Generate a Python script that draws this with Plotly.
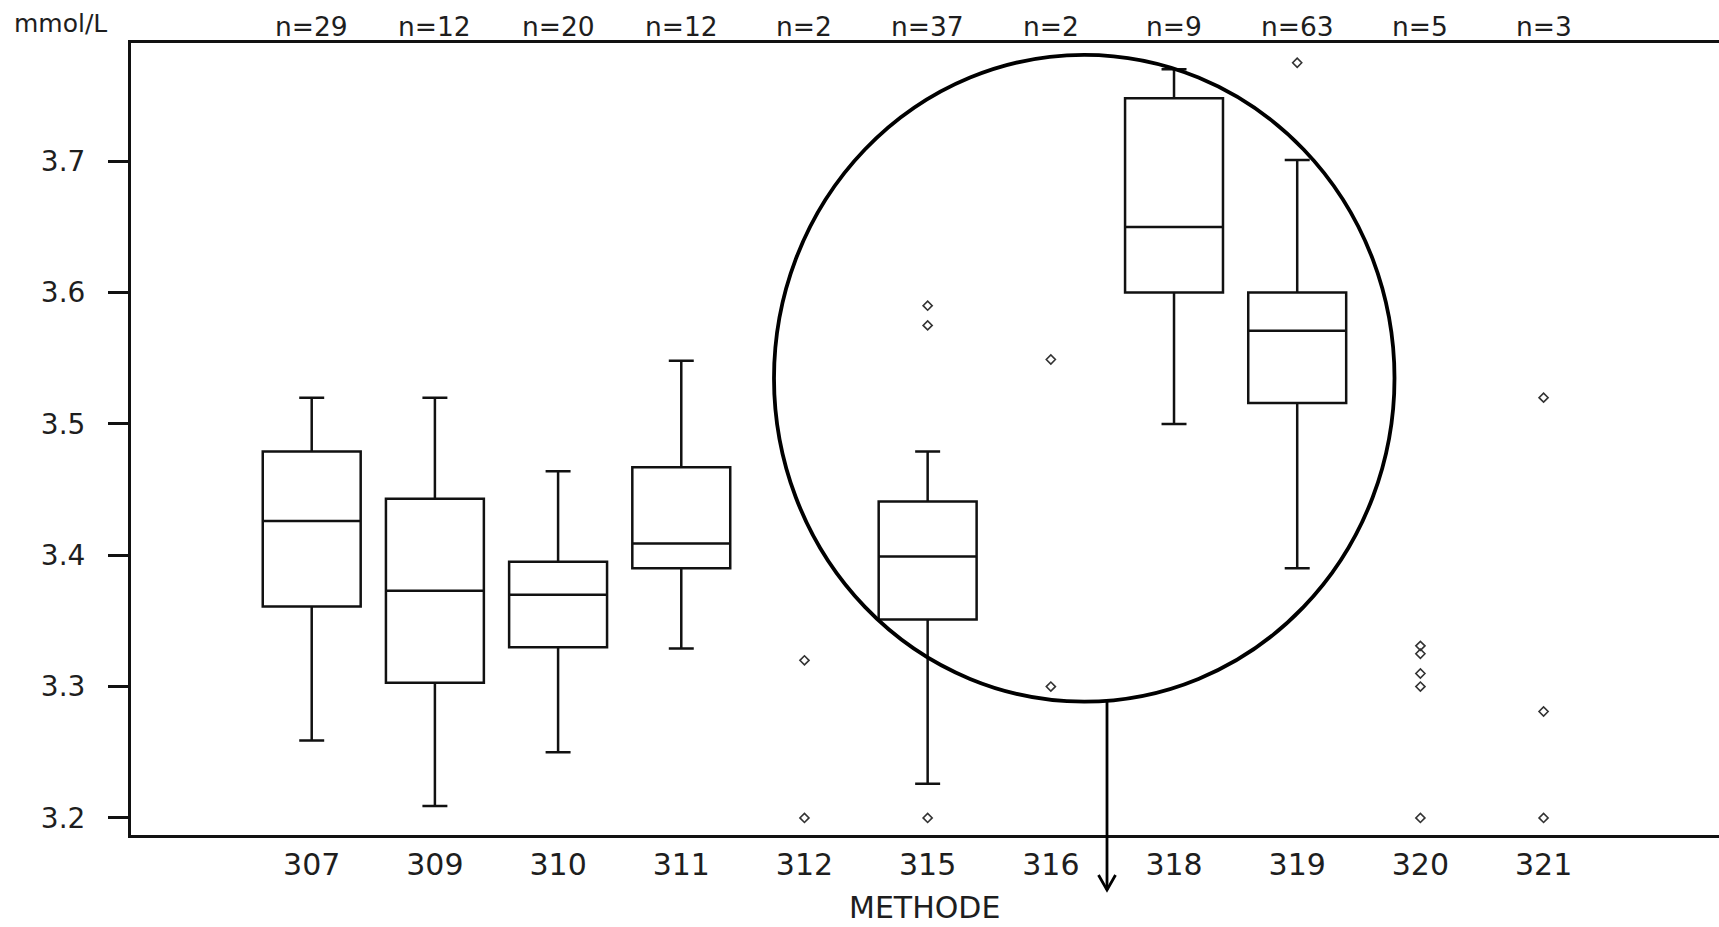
import plotly.graph_objects as go

# ---------------- data ----------------
categories = ["307", "309", "310", "311", "312", "315", "316", "318", "319", "320", "321"]
n_labels = ["n=29", "n=12", "n=20", "n=12", "n=2", "n=37", "n=2", "n=9", "n=63", "n=5", "n=3"]

box_cats = ["307", "309", "310", "311", "315", "318", "319"]
box_lower = [3.259, 3.209, 3.250, 3.329, 3.226, 3.500, 3.390]
box_q1 = [3.361, 3.303, 3.330, 3.390, 3.351, 3.600, 3.516]
box_median = [3.426, 3.373, 3.370, 3.409, 3.399, 3.650, 3.571]
box_q3 = [3.479, 3.443, 3.395, 3.467, 3.441, 3.748, 3.600]
box_upper = [3.520, 3.520, 3.464, 3.548, 3.479, 3.770, 3.701]

point_cats = ["312", "312", "315", "315", "315", "316", "316", "319",
              "320", "320", "320", "320", "320", "321", "321", "321"]
point_vals = [3.320, 3.200, 3.590, 3.575, 3.200, 3.549, 3.300, 3.775,
              3.331, 3.325, 3.310, 3.300, 3.200, 3.520, 3.281, 3.200]

y_ticks = [3.2, 3.3, 3.4, 3.5, 3.6, 3.7]

# ---------------- layout constants (pixels) ----------------
W, H = 1719, 927
ML, MR, MT, MB = 131, 0, 43, 92
PW = W - ML - MR
PH = H - MT - MB
FONT = "DejaVu Sans"
TXT = "#1e1e1e"


def px(xp):
    return (xp - ML) / PW


def py(yp):
    return (H - MB - yp) / PH


fig = go.Figure()

fig.add_trace(go.Box(
    x=box_cats,
    q1=box_q1, median=box_median, q3=box_q3,
    lowerfence=box_lower, upperfence=box_upper,
    boxpoints=False,
    width=0.795,
    whiskerwidth=0.255,
    line=dict(color="#111111", width=2.5),
    fillcolor="rgba(0,0,0,0)",
    showlegend=False,
    hoverinfo="skip",
))

fig.add_trace(go.Scatter(
    x=point_cats, y=point_vals, mode="markers",
    marker=dict(symbol="diamond-open", size=7, color="#333333",
                line=dict(width=1.6, color="#333333")),
    showlegend=False, hoverinfo="skip",
))

# n= labels above each category (category index positions)
for i, t in enumerate(n_labels):
    fig.add_annotation(x=i, xref="x", y=py(26), yref="paper", text=t,
                       showarrow=False, xanchor="center", yanchor="middle",
                       font=dict(family=FONT, size=26.5, color=TXT))

fig.add_annotation(x=px(12), xref="paper", y=py(24), yref="paper", text="mmol/L",
                   showarrow=False, xanchor="left", yanchor="middle",
                   font=dict(family=FONT, size=25, color=TXT))

fig.add_annotation(x=px(924), xref="paper", y=py(926), yref="paper", text="METHODE",
                   showarrow=False, xanchor="center", yanchor="bottom", borderpad=0,
                   font=dict(family=FONT, size=30, color=TXT))

# circle highlight
fig.add_shape(type="circle", xref="paper", yref="paper",
              x0=px(774), x1=px(1394.5), y0=py(701.6), y1=py(54.8),
              line=dict(color="black", width=3.8))

# arrow from circle downward
ax_x = 1107
fig.add_shape(type="line", xref="paper", yref="paper",
              x0=px(ax_x), x1=px(ax_x), y0=py(701.6), y1=py(890),
              line=dict(color="black", width=2.8))
fig.add_shape(type="path", xref="paper", yref="paper",
              path=f"M {px(ax_x - 8.5)} {py(875)} L {px(ax_x)} {py(890)} L {px(ax_x + 8.5)} {py(875)}",
              line=dict(color="black", width=2.8))

fig.update_layout(
    width=W, height=H,
    margin=dict(l=ML, r=MR, t=MT, b=MB, autoexpand=False),
    paper_bgcolor="white", plot_bgcolor="white",
    font=dict(family=FONT, color=TXT),
    boxmode="overlay",
    xaxis=dict(
        type="category", categoryorder="array", categoryarray=categories,
        range=[-1.467, 11.424],
        showline=True, linecolor="#111111", linewidth=3, mirror=True,
        showgrid=False, zeroline=False, ticks="",
        tickfont=dict(family=FONT, size=30, color=TXT),
        ticklabelstandoff=1,
    ),
    yaxis=dict(
        range=[3.187, 3.790],
        tickvals=y_ticks, tickformat=".1f",
        showline=True, linecolor="#111111", linewidth=3, mirror=False,
        showgrid=False, zeroline=False,
        ticks="outside", ticklen=20, tickwidth=2.5, tickcolor="#111111",
        tickfont=dict(family=FONT, size=28, color=TXT),
        ticklabelstandoff=17,
    ),
)

fig.write_html(
    "out.html",
    config={"displayModeBar": False},
    post_script="document.body.style.margin='0';document.body.style.overflow='hidden';",
)
